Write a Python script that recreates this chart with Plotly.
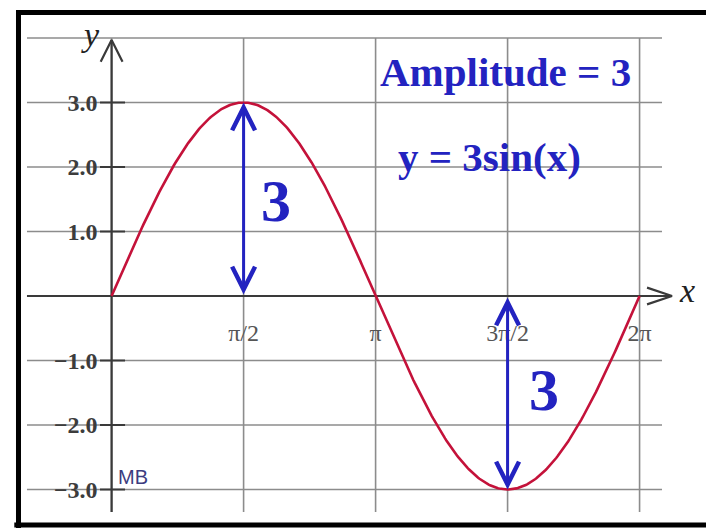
import numpy as np
import plotly.graph_objects as go

# ---- data -------------------------------------------------------------
AMPLITUDE = 3
x_tick_vals = [np.pi / 2, np.pi, 3 * np.pi / 2, 2 * np.pi]
x_tick_text = ["\u03c0/2", "\u03c0", "3\u03c0/2", "2\u03c0"]
y_tick_vals = [-3, -2, -1, 1, 2, 3]
y_tick_text = ["\u22123.0", "\u22122.0", "\u22121.0", "1.0", "2.0", "3.0"]
grid_x = [0, np.pi / 2, np.pi, 3 * np.pi / 2, 2 * np.pi]
grid_y = [-3, -2, -1, 1, 2, 3, 4]

curve_x = np.linspace(0, 2 * np.pi, 400)
curve_y = AMPLITUDE * np.sin(curve_x)

# ---- layout constants -------------------------------------------------
W, H = 706, 528
X_RANGE = [-1.3281, 7.0737]
Y_RANGE = [-3.5969, 4.5891]
GRID_X_EXT = [-1.007, 6.55]
GRID_Y_EXT = [-3.35, 4.0]

GRID = "#8c8c8c"
AXIS = "#3a3a3a"
CURVE = "#c4123a"
BLUE = "#2323c0"
SERIF = "Liberation Serif, Times New Roman, serif"

fig = go.Figure()

# outer frame: left, top and bottom edges
FRAME_LEFT, FRAME_TOP, FRAME_BOTTOM = -1.108, 4.395, -3.55
fx = [FRAME_LEFT, FRAME_LEFT, X_RANGE[1] + 0.2, None,
      FRAME_LEFT - 0.05, X_RANGE[1] + 0.2]
fy = [Y_RANGE[0] - 0.2, FRAME_TOP, FRAME_TOP, None,
      FRAME_BOTTOM, FRAME_BOTTOM]
fig.add_trace(go.Scatter(x=fx, y=fy, mode="lines",
                         line=dict(color="black", width=5), hoverinfo="skip"))

# grid lines
gx, gy = [], []
for yv in grid_y:
    gx += [GRID_X_EXT[0], GRID_X_EXT[1], None]
    gy += [yv, yv, None]
for xv in grid_x:
    gx += [xv, xv, None]
    gy += [GRID_Y_EXT[0], GRID_Y_EXT[1], None]
fig.add_trace(go.Scatter(x=gx, y=gy, mode="lines",
                         line=dict(color=GRID, width=1.6), hoverinfo="skip"))

# coordinate axes with open arrowheads
ax_x = [GRID_X_EXT[0], 6.669, None, 6.372, 6.669, 6.372, None,
        0, 0, None, -0.13, 0, 0.13]
ax_y = [0, 0, None, 0.13, 0, -0.13, None,
        GRID_Y_EXT[0], 3.97, None, 3.63, 3.97, 3.63]
fig.add_trace(go.Scatter(x=ax_x, y=ax_y, mode="lines",
                         line=dict(color=AXIS, width=2.2), hoverinfo="skip"))

# y tick marks crossing the axis
tx, ty = [], []
for yv in y_tick_vals:
    tx += [-0.138, 0.16, None]
    ty += [yv, yv, None]
fig.add_trace(go.Scatter(x=tx, y=ty, mode="lines",
                         line=dict(color=AXIS, width=2), hoverinfo="skip"))

# the sine curve
fig.add_trace(go.Scatter(x=curve_x, y=curve_y, mode="lines",
                         line=dict(color=CURVE, width=2.6), hoverinfo="skip"))

annotations = []

# double-headed amplitude arrows
for xa, y_from, y_to in [(np.pi / 2, 0, AMPLITUDE), (3 * np.pi / 2, 0, -AMPLITUDE)]:
    annotations.append(dict(
        x=xa, y=y_to, ax=xa, ay=y_from, xref="x", yref="y", axref="x", ayref="y",
        text="", showarrow=True, arrowhead=5, startarrowhead=5, arrowside="end+start",
        arrowsize=1.5, startarrowsize=1.5, arrowwidth=3, arrowcolor=BLUE,
        standoff=0, startstandoff=0))

# amplitude labels beside the arrows
annotations.append(dict(x=1.957, y=1.473, text=f"<b>{AMPLITUDE}</b>", showarrow=False,
                        font=dict(family=SERIF, size=60, color=BLUE)))
annotations.append(dict(x=5.146, y=-1.457, text=f"<b>{AMPLITUDE}</b>", showarrow=False,
                        font=dict(family=SERIF, size=60, color=BLUE)))

annotations.append(dict(x=4.682, y=3.48, text=f"<b>Amplitude = {AMPLITUDE}</b>",
                        showarrow=False, font=dict(family=SERIF, size=41, color=BLUE)))
annotations.append(dict(x=4.503, y=2.16, text=f"<b>y = {AMPLITUDE}sin(x)</b>",
                        showarrow=False, font=dict(family=SERIF, size=41, color=BLUE)))

# axis names
annotations.append(dict(x=-0.257, y=4.05, text="<i>y</i>", showarrow=False,
                        font=dict(family=SERIF, size=34, color="#222222")))
annotations.append(dict(x=6.848, y=0.093, text="<i>x</i>", showarrow=False,
                        font=dict(family=SERIF, size=34, color="#222222")))

annotations.append(dict(x=0.256, y=-2.80, text="MB", showarrow=False,
                        font=dict(family="Liberation Sans, Arial, sans-serif",
                                  size=20, color="#3c3c80")))

fig.update_layout(
    width=W, height=H, margin=dict(l=0, r=0, t=0, b=0),
    paper_bgcolor="white", plot_bgcolor="white", showlegend=False,
    annotations=annotations,
    xaxis=dict(range=X_RANGE, domain=[0, 1], anchor="free",
               position=(H - 296) / H, showgrid=False, zeroline=False,
               showline=False, tickmode="array", tickvals=x_tick_vals,
               ticktext=x_tick_text, ticks="", ticklabelstandoff=20,
               tickfont=dict(family=SERIF, size=24, color="#555555")),
    yaxis=dict(range=Y_RANGE, domain=[0, 1], anchor="free",
               position=111.6 / W, showgrid=False, zeroline=False,
               showline=False, tickmode="array", tickvals=y_tick_vals,
               ticktext=y_tick_text, ticks="", ticklabelstandoff=14,
               tickfont=dict(family=SERIF, size=24, color="#3c3c3c",
                             weight="bold")),
)

fig.write_html("out.html")
